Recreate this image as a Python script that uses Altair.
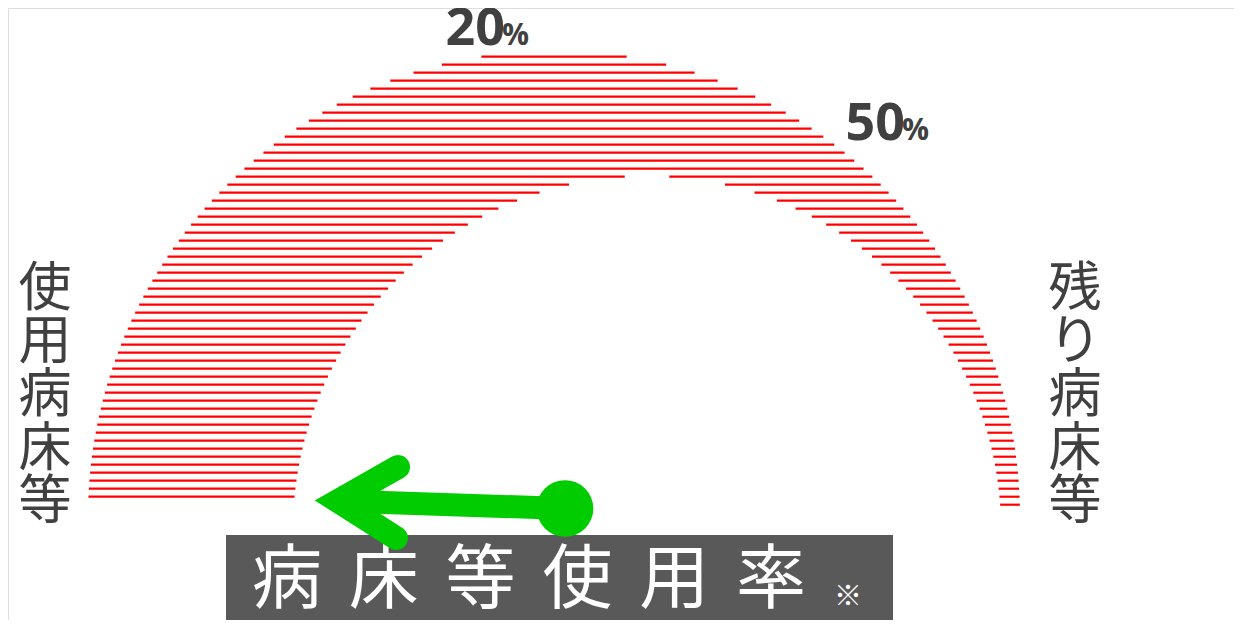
import math
import altair as alt
import pandas as pd

# ---- content (values / texts) ----
threshold_numbers = ["20", "50"]
threshold_unit = "%"
left_label = ["使", "用", "病", "床", "等"]
right_label = ["残", "り", "病", "床", "等"]
title_chars = ["病", "床", "等", "使", "用", "率"]
title_note = "※"

# ---- gauge geometry (image pixel space) ----
OUTER = (554.0, 517.0, 466.0)   # cx, cy, r
INNER = (647.0, 530.0, 354.0)
STRIPE_TOP, STRIPE_PITCH = 56.7, 8.0
LEFT_BOTTOM, RIGHT_BOTTOM = 497.5, 505.5

RED = "#ff0000"
GREEN = "#00cc00"
DARK = "#404040"
BOX = "#595959"

# build stripe segments
segs = []
k = 0
while True:
    y = STRIPE_TOP + k * STRIPE_PITCH
    if y > RIGHT_BOTTOM:
        break
    ocx, ocy, orr = OUTER
    icx, icy, irr = INNER
    ox = math.sqrt(max(orr ** 2 - (y - ocy) ** 2, 0))
    if y <= icy - irr:
        segs.append({"x": ocx - ox, "x2": ocx + ox, "y": y})
    else:
        ix = math.sqrt(max(irr ** 2 - (y - icy) ** 2, 0))
        if y <= LEFT_BOTTOM:
            segs.append({"x": ocx - ox, "x2": icx - ix, "y": y})
        segs.append({"x": icx + ix, "x2": ocx + ox, "y": y})
    k += 1
stripes = pd.DataFrame(segs)

X = alt.Scale(domain=[8, 1234], nice=False, zero=False)
Y = alt.Scale(domain=[8, 620], nice=False, zero=False, reverse=True)


def xe(f):
    return alt.X(f, type="quantitative", scale=X, axis=None)


def ye(f):
    return alt.Y(f, type="quantitative", scale=Y, axis=None)


stripe_layer = alt.Chart(stripes).mark_rule(color=RED, strokeWidth=2.2).encode(
    x=xe("x"), x2="x2", y=ye("y")
)

# percent labels
pct_pos = pd.DataFrame({"num": threshold_numbers, "x": [505, 905], "y": [45, 140]})
pct_num = alt.Chart(pct_pos).mark_text(
    font="Open Sans", fontWeight="bold", fontSize=52, color=DARK, align="right",
    baseline="alphabetic"
).encode(x=xe("x"), y=ye("y"), text="num:N")
pct_pos["unit"] = threshold_unit
pct_pos["ux"] = pct_pos["x"] - 3
pct_unit = alt.Chart(pct_pos).mark_text(
    font="Open Sans", fontWeight="bold", fontSize=30, color=DARK, align="left",
    baseline="alphabetic"
).encode(x=xe("ux"), y=ye("y"), text="unit:N")

# vertical side labels
side_rows = []
for i, c in enumerate(left_label):
    side_rows.append({"c": c, "x": 45, "y": 290 + i * 53.2})
for i, c in enumerate(right_label):
    side_rows.append({"c": c, "x": 1075, "y": 290 + i * 53.2})
side = alt.Chart(pd.DataFrame(side_rows)).mark_text(
    font="Noto Sans CJK JP", fontSize=53, color=DARK, align="center", baseline="middle"
).encode(x=xe("x"), y=ye("y"), text="c:N")

# title box
box = alt.Chart(pd.DataFrame({"x": [226], "x2": [893], "y": [535], "y2": [625]})).mark_rect(
    color=BOX
).encode(x=xe("x"), x2="x2", y=ye("y"), y2="y2")
title_df = pd.DataFrame({"c": title_chars, "x": [287 + i * 96.8 for i in range(len(title_chars))], "y": [582] * len(title_chars)})
title = alt.Chart(title_df).mark_text(
    font="Noto Sans CJK JP", fontSize=70, color="white", align="center", baseline="middle"
).encode(x=xe("x"), y=ye("y"), text="c:N")
note = alt.Chart(pd.DataFrame({"c": [title_note], "x": [848], "y": [598]})).mark_text(
    font="Noto Sans CJK JP", fontSize=28, color="white", align="center", baseline="middle"
).encode(x=xe("x"), y=ye("y"), text="c:N")

# needle arrow
shaft = alt.Chart(pd.DataFrame({"x": [340, 565], "y": [501, 508.5], "o": [0, 1]})).mark_line(
    color=GREEN, strokeWidth=23, strokeCap="butt"
).encode(x=xe("x"), y=ye("y"), order="o:Q")
head = alt.Chart(pd.DataFrame({"x": [398, 338, 396], "y": [467, 501, 538], "o": [0, 1, 2]})).mark_line(
    color=GREEN, strokeWidth=24, strokeCap="round", strokeJoin="miter", strokeMiterLimit=10
).encode(x=xe("x"), y=ye("y"), order="o:Q")
hub = alt.Chart(pd.DataFrame({"x": [565], "y": [508.5]})).mark_circle(
    color=GREEN, opacity=1, size=math.pi * 32 ** 2
).encode(x=xe("x"), y=ye("y"))

chart = alt.layer(
    stripe_layer, pct_num, pct_unit, side, box, title, note, shaft, head, hub
).properties(
    width=1226, height=612, padding=0, autosize=alt.AutoSizeParams(type="none")
).configure_view(stroke="transparent", strokeWidth=0).configure(background="white")

chart.save("out.html", embed_options={"renderer": "svg", "actions": False})
